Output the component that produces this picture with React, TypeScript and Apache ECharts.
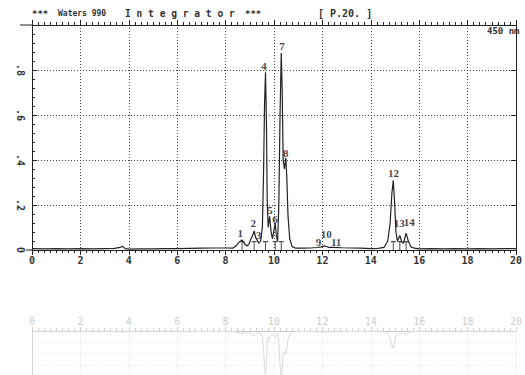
import React, { useEffect, useRef } from "react";
import * as echarts from "echarts";

// Retention time (min) and absorbance (AU)
const times = [
  0, 0.5, 1.0, 1.5, 2.0, 2.5, 3.0, 3.4, 3.65, 3.75, 3.85, 4.0, 4.5, 5.0, 5.5, 6.0, 6.5, 7.0, 7.5, 8.0,
  8.3, 8.45, 8.55, 8.68, 8.8, 8.9, 8.98, 9.05, 9.12, 9.18, 9.24, 9.3, 9.38, 9.45, 9.52, 9.57, 9.61,
  9.65, 9.69, 9.72, 9.76, 9.82, 9.88, 9.94, 10.0, 10.05, 10.1, 10.15, 10.2, 10.25, 10.3, 10.34, 10.38,
  10.43, 10.49, 10.53, 10.58, 10.65, 10.75, 10.9, 11.2, 11.5, 11.8, 11.95, 12.1, 12.25, 12.4, 12.8,
  13.2, 13.6, 14.0, 14.3, 14.55, 14.7, 14.8, 14.87, 14.93, 14.98, 15.04, 15.1, 15.2, 15.28, 15.35,
  15.46, 15.55, 15.65, 15.8, 16.0, 16.5, 17.0, 17.5, 18.0, 18.5, 19.0, 19.5, 20.0,
];
const absorbance = [
  0.006, 0.005, 0.006, 0.005, 0.006, 0.005, 0.006, 0.007, 0.012, 0.016, 0.006, 0.004, 0.005, 0.005,
  0.006, 0.006, 0.007, 0.008, 0.009, 0.009,
  0.008, 0.02, 0.035, 0.045, 0.025, 0.018, 0.03, 0.05, 0.065, 0.085, 0.055, 0.045, 0.03, 0.04, 0.1,
  0.35, 0.65, 0.79, 0.55, 0.22, 0.1, 0.15, 0.08, 0.05, 0.09, 0.12, 0.06, 0.04, 0.2, 0.6, 0.875, 0.7,
  0.4, 0.36, 0.41, 0.32, 0.15, 0.05, 0.015, 0.008, 0.008, 0.009, 0.011, 0.014, 0.018, 0.012, 0.012,
  0.01, 0.009, 0.008, 0.006, 0.007, 0.012, 0.04, 0.12, 0.25, 0.31, 0.22, 0.08, 0.04, 0.065, 0.035,
  0.03, 0.075, 0.04, 0.015, 0.008, 0.005, 0.006, 0.005, 0.006, 0.005, 0.006, 0.005, 0.006, 0.006,
];

// Peak numbers and where their labels sit (time, AU)
const peakNames = ["1", "2", "3", "4", "5", "6", "7", "8", "9", "10", "11", "12", "13", "14"];
const peakLabelTimes = [8.61, 9.14, 9.37, 9.59, 9.84, 10.04, 10.33, 10.49, 11.84, 12.16, 12.57, 14.94, 15.18, 15.59];
const peakLabelAU = [0.076, 0.12, 0.067, 0.818, 0.178, 0.138, 0.907, 0.431, 0.036, 0.071, 0.036, 0.342, 0.12, 0.124];

// Retention-time marks under peaks
const markTimes = [8.68, 9.18, 9.65, 10.05, 10.3, 14.93, 15.2, 15.46];

const xTicks = [0, 2, 4, 6, 8, 10, 12, 14, 16, 18, 20];
const yTickLabels: Record<string, string> = { "0": "0", "0.2": ".2", "0.4": ".4", "0.6": ".6", "0.8": ".8" };

const INK = "#222";
const GHOST = "#d9d9d9";
const MONO = "DejaVu Sans Mono";

export default function App() {
  const ref = useRef<HTMLDivElement>(null);
  useEffect(() => {
    if (!ref.current) return;
    const chart = echarts.init(ref.current, null, { renderer: "svg" });
    const trace = times.map((t, i) => [t, absorbance[i]]);
    const labels = peakNames.map((n, i) => ({ value: [peakLabelTimes[i], peakLabelAU[i]], name: n }));
    const marks = markTimes.map((t) => [t, 0]);
    const dotted = { type: [1, 2] as any, color: "#444", width: 1 };

    const option: any = {
      animation: false,
      backgroundColor: "#fff",
      grid: [
        { left: 32, right: 3, top: 25, height: 225 },
        { left: 32, right: 3, top: 331, height: 225 },
      ],
      xAxis: [
        {
          gridIndex: 0, type: "value", min: xTicks[0], max: xTicks[xTicks.length - 1], interval: 2,
          position: "bottom",
          axisLine: { onZero: false, lineStyle: { color: INK, width: 1 } },
          axisTick: { length: 5, lineStyle: { color: INK } },
          minorTick: { show: true, splitNumber: 8, length: 3, lineStyle: { color: INK } },
          axisLabel: { fontFamily: MONO, fontSize: 10, color: "#333", margin: 5, fontWeight: "bold" },
          splitLine: { show: true, lineStyle: dotted },
        },
        {
          gridIndex: 0, type: "value", min: 0, max: 20, interval: 2, position: "top",
          axisLine: { onZero: false, lineStyle: { color: INK } },
          axisTick: { length: 5, lineStyle: { color: INK } },
          minorTick: { show: true, splitNumber: 8, length: 3, lineStyle: { color: INK } },
          axisLabel: { show: false },
          splitLine: { show: false },
        },
        {
          gridIndex: 1, type: "value", min: 0, max: 20, interval: 2, position: "top",
          axisLine: { onZero: false, lineStyle: { color: "#c8c8c8" } },
          axisTick: { length: 4, lineStyle: { color: "#cccccc" } },
          minorTick: { show: true, splitNumber: 8, length: 3, lineStyle: { color: "#d0d0d0" } },
          axisLabel: { fontFamily: MONO, fontSize: 10, color: "#cdcdcd", margin: 5 },
          splitLine: { show: true, lineStyle: { type: [1, 2], color: "#e2e2e2" } },
        },
      ],
      yAxis: [
        {
          gridIndex: 0, type: "value", min: 0, max: 1, interval: 0.2,
          axisLine: { show: true, onZero: false, lineStyle: { color: INK } },
          axisTick: { show: true, inside: true, length: 5, lineStyle: { color: INK } },
          minorTick: { show: true, splitNumber: 5, length: 3, lineStyle: { color: INK } },
          axisLabel: {
            rotate: -90, margin: 7, fontFamily: MONO, fontSize: 10, color: "#333", fontWeight: "bold",
            formatter: (v: number) => yTickLabels[String(Math.round(v * 10) / 10)] ?? "",
          },
          splitLine: { show: true, lineStyle: dotted },
        },
        {
          gridIndex: 0, type: "value", min: 0, max: 1, interval: 0.2, position: "right",
          axisLine: { show: true, onZero: false, lineStyle: { color: INK } },
          axisTick: { show: true, inside: true, length: 5, lineStyle: { color: INK } },
          minorTick: { show: false },
          axisLabel: { show: false },
          splitLine: { show: false },
        },
        {
          gridIndex: 1, type: "value", min: 0, max: 1, interval: 0.2, inverse: true,
          axisLine: { show: true, onZero: false, lineStyle: { color: "#d6d6d6" } },
          axisTick: { show: false },
          axisLabel: { show: false },
          splitLine: { show: true, lineStyle: { type: [1, 2], color: "#e2e2e2" } },
        },
      ],
      series: [
        {
          type: "line", xAxisIndex: 0, yAxisIndex: 0, data: trace, symbol: "none",
          lineStyle: { color: INK, width: 1.2 }, z: 5,
        },
        {
          type: "scatter", xAxisIndex: 0, yAxisIndex: 0, data: marks,
          symbol: "path://M0,0h10v2h-4v14h-2v-14h-4z", symbolSize: [5, 9], symbolOffset: [0, -4.5],
          itemStyle: { color: INK }, z: 4,
        },
        {
          type: "scatter", xAxisIndex: 0, yAxisIndex: 0, data: labels, symbolSize: 1,
          itemStyle: { color: "rgba(0,0,0,0)" },
          label: {
            show: true, position: "inside", formatter: (p: any) => p.name,
            fontFamily: "Liberation Serif", fontSize: 11, color: "#111", fontWeight: "bold",
          },
          z: 6,
        },
        {
          type: "line", xAxisIndex: 2, yAxisIndex: 2, data: trace, symbol: "none",
          lineStyle: { color: GHOST, width: 1 },
        },
      ],
      graphic: [
        { type: "text", left: 32, top: 9, style: { text: "***", font: `bold 9px "${MONO}"`, fill: "#333" } },
        { type: "text", left: 58, top: 9, style: { text: "Waters 990", font: `bold 8px "${MONO}"`, fill: "#333" } },
        { type: "text", left: 125, top: 8, style: { text: "I n t e g r a t o r", font: `bold 9.6px "${MONO}"`, fill: "#333" } },
        { type: "text", left: 245, top: 9, style: { text: "***", font: `bold 9px "${MONO}"`, fill: "#333" } },
        { type: "text", left: 318, top: 8, style: { text: "[ P.20. ]", font: `bold 10px "${MONO}"`, fill: "#333" } },
        { type: "text", left: 487, top: 26, style: { text: "450 nm", font: `bold 9px "${MONO}"`, fill: "#333" }, z: 10 },
        { type: "line", shape: { x1: 20, y1: 25, x2: 32, y2: 25 }, style: { stroke: INK, lineWidth: 1 } },
        { type: "line", shape: { x1: 26, y1: 250, x2: 32, y2: 250 }, style: { stroke: INK, lineWidth: 1 } },
      ],
    };
    chart.setOption(option);
    return () => chart.dispose();
  }, []);
  return <div ref={ref} style={{ width: 525, height: 375, position: "fixed", left: 0, top: 0 }} />;
}
